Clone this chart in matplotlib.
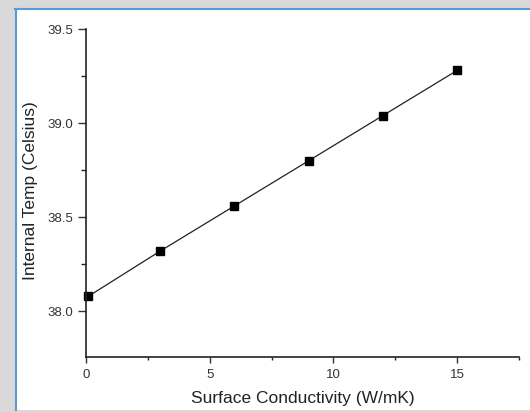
import matplotlib.pyplot as plt
import numpy as np
from matplotlib.patches import Rectangle
from matplotlib.lines import Line2D
from matplotlib.ticker import MultipleLocator

plt.rcParams['font.family'] = ['Liberation Sans', 'DejaVu Sans']

# data
conductivity = [0.1, 3, 6, 9, 12, 15]
internal_temp = [38.08, 38.32, 38.56, 38.80, 39.04, 39.28]

fig = plt.figure(figsize=(5.3, 4.12), dpi=100)
fig.patch.set_facecolor('#d9d9d9')

# window look: white panel with blue border on left/top
fig.patches.append(Rectangle((15 / 530, 2 / 412), 1, 401 / 412, transform=fig.transFigure,
                             facecolor='white', edgecolor='none', zorder=-10))
fig.lines.append(Line2D([15.5 / 530, 15.5 / 530], [2 / 412, 403 / 412], transform=fig.transFigure,
                        color='#5b9bd5', lw=1.5, zorder=-5))
fig.lines.append(Line2D([15 / 530, 1], [403 / 412, 403 / 412], transform=fig.transFigure,
                        color='#5b9bd5', lw=1.5, zorder=-5))

ax = fig.add_axes([86 / 530, 55 / 412, 433 / 530, 328 / 412])
ax.set_zorder(5)
ax.set_facecolor('none')
ax.plot(conductivity, internal_temp, color='#222222', lw=0.9, marker='s',
        markersize=6, markerfacecolor='black', markeredgecolor='black', clip_on=False)

ax.set_xlim(0, 17.5)
ax.set_ylim(37.757, 39.5)
ax.xaxis.set_major_locator(MultipleLocator(5))
ax.xaxis.set_minor_locator(MultipleLocator(2.5))
ax.yaxis.set_major_locator(MultipleLocator(0.5))
ax.yaxis.set_minor_locator(MultipleLocator(0.25))
ax.set_yticks([38.0, 38.5, 39.0, 39.5])

for side in ['top', 'right']:
    ax.spines[side].set_visible(False)
for side in ['left', 'bottom']:
    ax.spines[side].set_linewidth(1.2)
    ax.spines[side].set_color('#222222')

ax.tick_params(axis='y', which='major', length=6, width=1, direction='out', labelsize=9.5, colors='#333333', pad=3)
ax.tick_params(axis='y', which='minor', length=3.5, width=1, direction='out', colors='#222222')
ax.tick_params(axis='x', which='major', length=4, width=1, direction='out', labelsize=9.5, colors='#333333', pad=5)
ax.tick_params(axis='x', which='minor', length=2.5, width=1, direction='out', colors='#222222')

ax.set_xlabel('Surface Conductivity (W/mK)', fontsize=12.5, color='#222222')
ax.set_ylabel('Internal Temp (Celsius)', fontsize=12.5, color='#222222')
ax.xaxis.set_label_coords(0.5, -0.105)
ax.yaxis.set_label_coords(-0.111, 0.506)

fig.savefig('out.png', dpi=100)
